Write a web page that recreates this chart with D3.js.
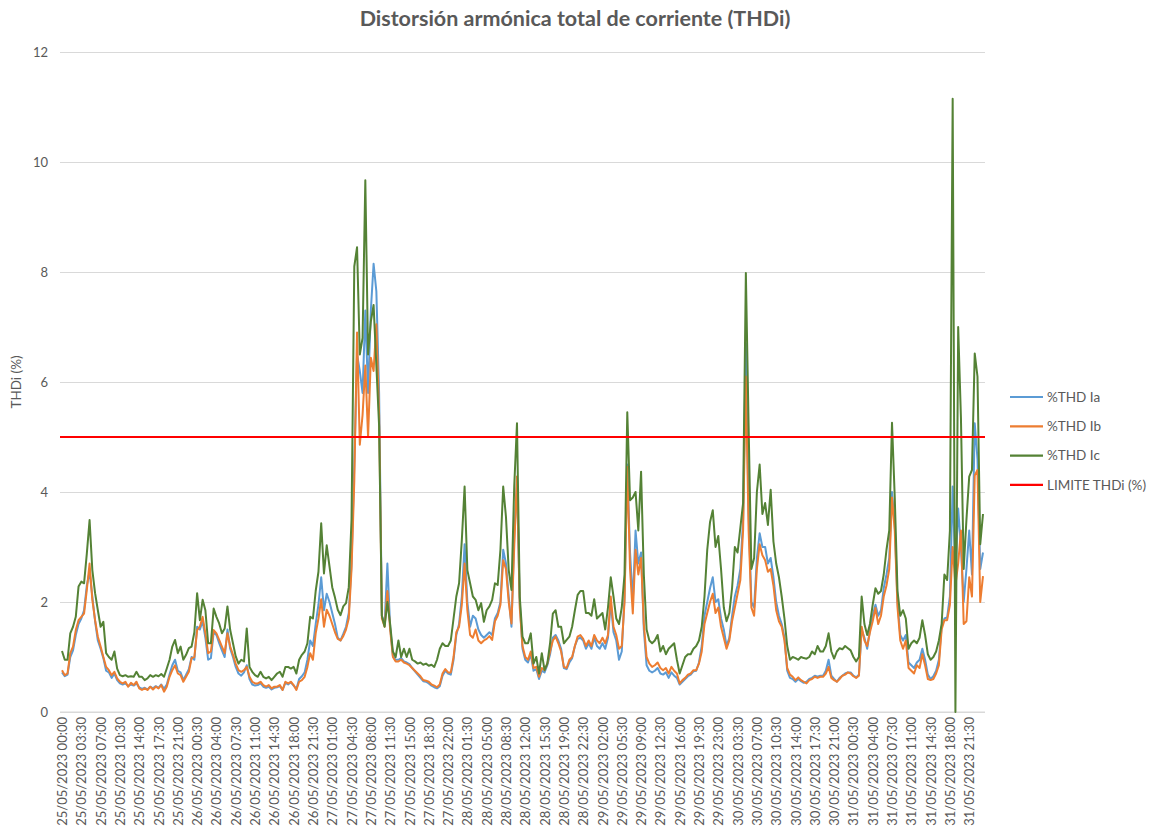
<!DOCTYPE html>
<html>
<head>
<meta charset="utf-8">
<script src="https://cdn.jsdelivr.net/npm/d3@7"></script>
<style>
  body { margin: 0; background: #fff; }
  text { font-family: Lato, 'Noto Sans', sans-serif; fill: #595959; }
</style>
</head>
<body>
<div id="chart"></div>
<script>
// one label every 7 points (3.5 h, data every 30 min)
const tickLabels = [
  '25/05/2023 00:00', '25/05/2023 03:30', '25/05/2023 07:00', '25/05/2023 10:30', '25/05/2023 14:00', '25/05/2023 17:30', '25/05/2023 21:00',
  '26/05/2023 00:30', '26/05/2023 04:00', '26/05/2023 07:30', '26/05/2023 11:00', '26/05/2023 14:30', '26/05/2023 18:00', '26/05/2023 21:30',
  '27/05/2023 01:00', '27/05/2023 04:30', '27/05/2023 08:00', '27/05/2023 11:30', '27/05/2023 15:00', '27/05/2023 18:30', '27/05/2023 22:00',
  '28/05/2023 01:30', '28/05/2023 05:00', '28/05/2023 08:30', '28/05/2023 12:00', '28/05/2023 15:30', '28/05/2023 19:00', '28/05/2023 22:30',
  '29/05/2023 02:00', '29/05/2023 05:30', '29/05/2023 09:00', '29/05/2023 12:30', '29/05/2023 16:00', '29/05/2023 19:30', '29/05/2023 23:00',
  '30/05/2023 03:30', '30/05/2023 07:00', '30/05/2023 10:30', '30/05/2023 14:00', '30/05/2023 17:30', '30/05/2023 21:00',
  '31/05/2023 00:30', '31/05/2023 04:00', '31/05/2023 07:30', '31/05/2023 11:00', '31/05/2023 14:30', '31/05/2023 18:00', '31/05/2023 21:30'
]

const thdIa = [
  0.72, 0.65, 0.68, 1.00, 1.12, 1.40, 1.60, 1.70, 1.85, 2.30,
  2.55, 2.10, 1.65, 1.30, 1.15, 0.98, 0.75, 0.72, 0.62, 0.70,
  0.58, 0.52, 0.50, 0.52, 0.47, 0.50, 0.48, 0.52, 0.45, 0.42,
  0.44, 0.41, 0.46, 0.43, 0.47, 0.44, 0.50, 0.42, 0.50, 0.68,
  0.85, 0.95, 0.75, 0.72, 0.58, 0.68, 0.78, 1.00, 0.95, 1.55,
  1.50, 1.65, 1.35, 0.95, 0.98, 1.45, 1.40, 1.25, 1.12, 1.00,
  1.50, 1.15, 1.00, 0.82, 0.70, 0.66, 0.72, 0.85, 0.60, 0.50,
  0.48, 0.49, 0.52, 0.46, 0.44, 0.46, 0.41, 0.44, 0.45, 0.47,
  0.40, 0.53, 0.50, 0.54, 0.48, 0.42, 0.60, 0.65, 0.72, 0.95,
  1.30, 1.20, 1.60, 1.95, 2.45, 1.85, 2.15, 2.00, 1.80, 1.60,
  1.35, 1.30, 1.42, 1.55, 1.80, 2.70, 4.50, 6.50, 6.20, 5.80,
  7.30, 5.80, 7.30, 8.15, 7.65, 5.80, 1.75, 1.60, 2.70, 1.55,
  1.02, 0.95, 0.95, 0.98, 0.92, 0.90, 0.87, 0.80, 0.74, 0.68,
  0.62, 0.56, 0.55, 0.52, 0.48, 0.45, 0.43, 0.47, 0.66, 0.75,
  0.70, 0.68, 0.95, 1.40, 1.60, 2.10, 3.05, 2.00, 1.55, 1.75,
  1.70, 1.50, 1.40, 1.35, 1.40, 1.45, 1.40, 1.70, 1.80, 2.00,
  2.95, 2.70, 2.10, 1.55, 3.20, 4.20, 2.00, 1.15, 0.95, 0.90,
  1.05, 0.75, 0.78, 0.60, 0.75, 0.72, 0.85, 1.05, 1.35, 1.40,
  1.30, 1.15, 0.80, 0.78, 0.90, 0.98, 1.20, 1.33, 1.35, 1.30,
  1.15, 1.25, 1.15, 1.35, 1.20, 1.15, 1.25, 1.15, 1.35, 2.00,
  1.45, 1.30, 0.95, 1.10, 2.10, 4.50, 2.90, 2.00, 3.30, 2.70,
  2.90, 1.50, 0.85, 0.75, 0.72, 0.75, 0.80, 0.70, 0.68, 0.72,
  0.62, 0.72, 0.66, 0.62, 0.50, 0.55, 0.60, 0.65, 0.68, 0.74,
  0.75, 0.90, 1.20, 1.75, 2.00, 2.25, 2.45, 2.00, 2.05, 1.70,
  1.50, 1.20, 1.35, 1.75, 2.10, 2.30, 2.60, 3.50, 6.70, 3.60,
  2.00, 1.90, 2.80, 3.25, 3.00, 3.00, 2.70, 2.80, 2.45, 2.00,
  1.75, 1.60, 1.35, 0.75, 0.62, 0.60, 0.55, 0.60, 0.56, 0.53,
  0.55, 0.60, 0.62, 0.66, 0.64, 0.66, 0.66, 0.75, 0.95, 0.66,
  0.60, 0.55, 0.62, 0.66, 0.70, 0.72, 0.72, 0.66, 0.63, 0.68,
  1.50, 1.35, 1.15, 1.50, 1.75, 1.95, 1.75, 1.85, 2.25, 2.50,
  2.80, 4.00, 3.40, 2.00, 1.40, 1.30, 1.40, 0.90, 0.85, 0.80,
  0.90, 0.95, 1.15, 0.95, 0.68, 0.60, 0.65, 0.75, 0.95, 1.55,
  1.70, 1.72, 2.10, 4.10, 2.50, 3.70, 3.00, 2.00, 2.60, 3.30,
  2.50, 5.25, 4.60, 2.60, 2.90
]

const thdIb = [
  0.76, 0.67, 0.70, 1.07, 1.19, 1.49, 1.67, 1.73, 1.79, 2.22,
  2.70, 2.04, 1.67, 1.37, 1.19, 1.00, 0.82, 0.76, 0.67, 0.73,
  0.61, 0.55, 0.52, 0.55, 0.46, 0.53, 0.49, 0.55, 0.43, 0.40,
  0.43, 0.40, 0.46, 0.41, 0.46, 0.43, 0.49, 0.37, 0.46, 0.64,
  0.76, 0.85, 0.70, 0.67, 0.55, 0.64, 0.73, 0.98, 1.00, 1.49,
  1.55, 1.73, 1.43, 1.07, 1.10, 1.49, 1.43, 1.31, 1.19, 1.07,
  1.43, 1.19, 1.04, 0.88, 0.76, 0.73, 0.76, 0.82, 0.64, 0.55,
  0.52, 0.52, 0.55, 0.49, 0.46, 0.49, 0.43, 0.46, 0.46, 0.49,
  0.40, 0.55, 0.52, 0.55, 0.49, 0.40, 0.55, 0.58, 0.64, 0.82,
  1.07, 0.95, 1.43, 1.70, 2.05, 1.55, 1.86, 1.75, 1.60, 1.45,
  1.33, 1.30, 1.38, 1.50, 1.70, 2.60, 4.20, 6.90, 4.86, 5.40,
  6.30, 5.00, 6.44, 6.20, 7.05, 5.40, 1.70, 1.55, 2.20, 1.50,
  1.00, 0.92, 0.92, 0.95, 0.90, 0.88, 0.85, 0.80, 0.75, 0.70,
  0.65, 0.58, 0.57, 0.55, 0.50, 0.48, 0.45, 0.50, 0.70, 0.78,
  0.72, 0.72, 1.00, 1.45, 1.55, 1.95, 2.70, 1.85, 1.40, 1.35,
  1.50, 1.30, 1.25, 1.30, 1.33, 1.38, 1.31, 1.65, 1.75, 1.95,
  2.76, 2.60, 2.00, 1.61, 3.00, 4.28, 1.90, 1.20, 1.00, 0.95,
  1.10, 0.80, 0.82, 0.64, 0.80, 0.76, 0.88, 1.10, 1.30, 1.37,
  1.25, 1.10, 0.82, 0.80, 0.95, 1.00, 1.20, 1.37, 1.40, 1.33,
  1.20, 1.30, 1.20, 1.40, 1.30, 1.25, 1.35, 1.25, 1.40, 2.10,
  1.55, 1.40, 1.15, 1.20, 2.00, 4.46, 2.60, 1.79, 2.95, 2.50,
  2.80, 1.60, 1.00, 0.88, 0.82, 0.85, 0.90, 0.80, 0.76, 0.80,
  0.70, 0.82, 0.75, 0.70, 0.52, 0.58, 0.62, 0.68, 0.70, 0.76,
  0.76, 0.88, 1.10, 1.60, 1.80, 2.00, 2.15, 1.80, 1.90, 1.55,
  1.35, 1.15, 1.30, 1.65, 1.90, 2.15, 2.40, 3.30, 6.10, 3.30,
  1.90, 1.75, 2.60, 3.05, 2.85, 2.76, 2.55, 2.60, 2.30, 1.85,
  1.65, 1.55, 1.30, 0.80, 0.68, 0.64, 0.58, 0.63, 0.58, 0.55,
  0.52, 0.58, 0.60, 0.64, 0.62, 0.64, 0.64, 0.70, 0.82, 0.62,
  0.58, 0.55, 0.60, 0.66, 0.68, 0.72, 0.70, 0.65, 0.62, 0.66,
  1.55, 1.30, 1.20, 1.45, 1.65, 1.89, 1.60, 1.75, 2.10, 2.30,
  2.60, 3.90, 3.30, 1.90, 1.30, 1.15, 1.30, 0.80, 0.75, 0.70,
  0.85, 0.80, 1.05, 0.85, 0.60, 0.58, 0.60, 0.70, 0.85, 1.50,
  1.67, 1.67, 1.95, 3.00, 2.30, 2.70, 3.30, 1.60, 1.65, 2.45,
  2.10, 4.30, 4.40, 2.00, 2.47
]

const thdIc = [
  1.11, 0.95, 0.95, 1.43, 1.55, 1.73, 2.28, 2.37, 2.34, 2.88,
  3.49, 2.58, 2.16, 1.85, 1.55, 1.64, 1.07, 1.00, 0.95, 1.10,
  0.79, 0.67, 0.65, 0.67, 0.64, 0.65, 0.64, 0.73, 0.64, 0.64,
  0.58, 0.61, 0.67, 0.64, 0.67, 0.65, 0.69, 0.64, 0.79, 0.95,
  1.19, 1.31, 1.07, 1.19, 0.95, 1.04, 1.16, 1.19, 1.45, 2.16,
  1.67, 2.04, 1.85, 1.25, 1.25, 1.88, 1.73, 1.61, 1.43, 1.52,
  1.92, 1.49, 1.25, 1.01, 0.88, 0.95, 0.92, 1.52, 0.82, 0.73,
  0.67, 0.64, 0.73, 0.64, 0.61, 0.64, 0.58, 0.64, 0.70, 0.73,
  0.64, 0.82, 0.82, 0.79, 0.82, 0.70, 0.95, 1.04, 1.10, 1.25,
  1.73, 1.70, 2.20, 2.55, 3.43, 2.52, 3.03, 2.65, 2.27, 2.08,
  1.86, 1.76, 1.92, 1.98, 2.27, 3.50, 8.10, 8.45, 6.50, 6.80,
  9.67, 6.50, 7.10, 7.40, 6.30, 5.20, 1.75, 1.55, 2.00, 1.60,
  1.10, 1.00, 1.30, 1.00, 1.15, 1.00, 1.15, 0.95, 0.92, 0.88,
  0.90, 0.86, 0.88, 0.84, 0.86, 0.82, 0.95, 1.15, 1.25, 1.20,
  1.20, 1.30, 1.70, 2.10, 2.34, 3.13, 4.10, 2.58, 2.34, 2.10,
  2.04, 1.85, 1.98, 1.64, 1.85, 1.92, 2.04, 2.34, 2.31, 2.95,
  4.10, 3.55, 2.58, 2.22, 4.10, 5.25, 2.10, 1.37, 1.25, 1.25,
  1.43, 0.88, 1.00, 0.70, 1.07, 0.76, 0.88, 1.25, 1.79, 1.85,
  1.55, 1.55, 1.25, 1.31, 1.37, 1.55, 1.85, 2.13, 2.20, 2.20,
  1.80, 1.80, 1.75, 2.05, 1.70, 1.75, 1.80, 1.50, 1.90, 2.45,
  2.10, 1.70, 1.60, 1.90, 2.50, 5.45, 3.85, 3.90, 4.00, 3.30,
  4.37, 2.50, 1.50, 1.30, 1.25, 1.30, 1.40, 1.10, 1.20, 1.05,
  1.15, 1.20, 1.25, 0.95, 0.70, 0.85, 1.00, 1.05, 1.05, 1.15,
  1.20, 1.30, 1.55, 2.10, 2.95, 3.45, 3.67, 3.00, 3.20, 2.60,
  1.90, 1.65, 1.80, 2.25, 3.00, 2.90, 3.35, 3.80, 7.98, 5.20,
  2.60, 2.80, 4.00, 4.50, 3.60, 3.80, 3.40, 4.04, 3.10, 2.70,
  2.45, 2.10, 1.70, 1.20, 0.95, 1.00, 0.98, 0.95, 1.00, 0.98,
  0.97, 1.00, 1.10, 1.05, 1.20, 1.10, 1.10, 1.20, 1.43, 1.10,
  0.97, 1.10, 1.16, 1.14, 1.20, 1.16, 1.12, 1.00, 0.92, 1.00,
  2.10, 1.60, 1.40, 1.60, 1.95, 2.25, 2.15, 2.20, 2.50, 2.95,
  3.30, 5.26, 3.90, 2.20, 1.75, 1.85, 1.70, 1.15, 1.25, 1.30,
  1.25, 1.35, 1.67, 1.40, 1.05, 0.95, 1.00, 1.10, 1.30, 1.60,
  2.50, 2.40, 3.30, 11.15, 0.00, 7.00, 5.35, 2.60, 3.50, 4.28,
  4.40, 6.52, 6.10, 3.05, 3.60
]

const limitThdi = 5
const seriesNames = ['%THD Ia', '%THD Ib', '%THD Ic', 'LIMITE THDi (%)']
const yTicks = [0, 2, 4, 6, 8, 10, 12]
const labelStep = 7

const colors = ['#5b9bd5', '#ed7d31', '#548235', '#ff0000']
const plot = { left: 60, right: 985, top: 52, bottom: 712 }

const svg = d3.select('#chart')
  .append('svg')
  .attr('width', 1151)
  .attr('height', 839)

const xScale = d3.scaleLinear()
  .domain([0, thdIa.length - 1])
  .range([62, 983])

const yScale = d3.scaleLinear()
  .domain([0, 12])
  .range([plot.bottom, plot.top])

// title
svg.append('text')
  .attr('x', 575)
  .attr('y', 26)
  .attr('text-anchor', 'middle')
  .style('font-size', '21.5px')
  .style('font-weight', 'bold')
  .text('Distorsión armónica total de corriente (THDi)')

// y axis with gridlines
const yAxis = svg.append('g')
  .attr('transform', `translate(${plot.left},0)`)
  .call(d3.axisLeft(yScale).tickValues(yTicks).tickSize(-(plot.right - plot.left)).tickPadding(12))
yAxis.select('.domain').remove()
yAxis.selectAll('line').attr('stroke', '#d9d9d9')
yAxis.selectAll('text').style('font-size', '13px').attr('fill', '#595959')

svg.append('text')
  .attr('transform', 'rotate(-90)')
  .attr('x', -382)
  .attr('y', 21)
  .attr('text-anchor', 'middle')
  .style('font-size', '13.5px')
  .text('THDi (%)')

// x axis, category labels rotated
const xAxis = svg.append('g')
  .attr('transform', `translate(0,${plot.bottom})`)
  .call(d3.axisBottom(xScale)
    .tickValues(d3.range(0, tickLabels.length * labelStep, labelStep))
    .tickFormat(i => tickLabels[i / labelStep])
    .tickSize(0))
xAxis.select('.domain')
  .attr('d', `M${plot.left},0H${plot.right}`)
  .attr('stroke', '#d9d9d9')
xAxis.selectAll('text')
  .attr('transform', 'rotate(-90)')
  .attr('text-anchor', 'end')
  .attr('x', -5)
  .attr('y', 0)
  .attr('dy', '0.35em')
  .attr('fill', '#595959')
  .style('font-size', '13px')

// series
const allSeries = [thdIa, thdIb, thdIc]
const line = d3.line()
  .x((d, i) => xScale(i))
  .y(d => yScale(d))

svg.selectAll('.series')
  .data(allSeries)
  .enter().append('path')
  .attr('class', 'series')
  .attr('d', d => line(d))
  .attr('fill', 'none')
  .attr('stroke', (d, i) => colors[i])
  .attr('stroke-width', 2)
  .attr('stroke-linejoin', 'round')

svg.append('line')
  .attr('x1', plot.left)
  .attr('x2', plot.right)
  .attr('y1', yScale(limitThdi))
  .attr('y2', yScale(limitThdi))
  .attr('stroke', colors[3])
  .attr('stroke-width', 2.2)

// legend
const legend = svg.selectAll('.legend')
  .data(seriesNames)
  .enter().append('g')
  .attr('class', 'legend')
  .attr('transform', (d, i) => `translate(1010,${397 + i * 29.3})`)

legend.append('line')
  .attr('x1', 0)
  .attr('x2', 33)
  .attr('stroke', (d, i) => colors[i])
  .attr('stroke-width', 2.2)

legend.append('text')
  .attr('x', 37)
  .attr('dy', '0.35em')
  .style('font-size', '13.5px')
  .text(d => d)
</script>
</body>
</html>
